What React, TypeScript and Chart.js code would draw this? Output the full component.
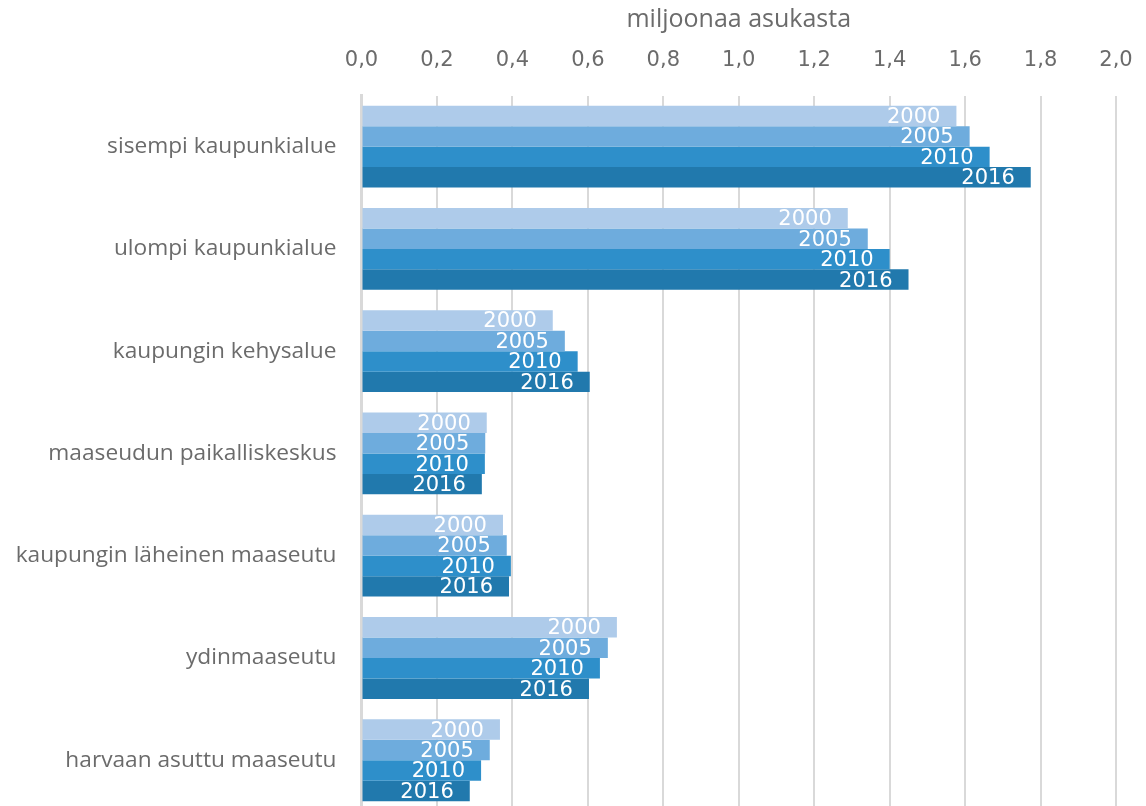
import React, { useEffect, useRef } from "react";
import { Chart, registerables } from "chart.js";

Chart.register(...registerables);

const categories = [
  "sisempi kaupunkialue",
  "ulompi kaupunkialue",
  "kaupungin kehysalue",
  "maaseudun paikalliskeskus",
  "kaupungin läheinen maaseutu",
  "ydinmaaseutu",
  "harvaan asuttu maaseutu",
];
const seriesNames = ["2000", "2005", "2010", "2016"];
const values2000 = [1.577, 1.289, 0.507, 0.332, 0.375, 0.677, 0.367];
const values2005 = [1.612, 1.342, 0.539, 0.328, 0.385, 0.653, 0.34];
const values2010 = [1.665, 1.4, 0.573, 0.327, 0.396, 0.632, 0.317];
const values2016 = [1.774, 1.45, 0.605, 0.319, 0.391, 0.603, 0.287];
const seriesColors = ["#aecbea", "#6eacdd", "#2e8fca", "#2179ad"];
const axisTitle = "miljoonaa asukasta";

const labelPlugin = {
  id: "insideEndLabels",
  afterDatasetsDraw(chart: any) {
    const ctx = chart.ctx;
    ctx.save();
    ctx.font = "21px 'DejaVu Sans'";
    ctx.fillStyle = "#ffffff";
    ctx.textAlign = "right";
    ctx.textBaseline = "middle";
    chart.data.datasets.forEach((ds: any, i: number) => {
      const meta = chart.getDatasetMeta(i);
      meta.data.forEach((bar: any) => {
        ctx.fillText(ds.label, bar.x - 16, bar.y + 1.5);
      });
    });
    ctx.restore();
  },
};

export default function App() {
  const ref = useRef<HTMLCanvasElement>(null);
  useEffect(() => {
    if (!ref.current) return;
    const all = [values2000, values2005, values2010, values2016];
    const chart = new Chart(ref.current, {
      type: "bar",
      data: {
        labels: categories,
        datasets: seriesNames.map((n, i) => ({
          label: n,
          data: all[i],
          backgroundColor: seriesColors[i],
          barPercentage: 1,
          categoryPercentage: 0.8,
        })),
      },
      options: {
        indexAxis: "y",
        animation: false,
        responsive: false,
        maintainAspectRatio: false,
        layout: { padding: { left: 0, right: 30, top: 0, bottom: 0 } },
        plugins: {
          legend: { display: false },
          tooltip: { enabled: false },
        },
        scales: {
          x: {
            position: "top",
            min: 0,
            max: 2,
            afterFit: (s: any) => {
              s.height = 95.5;
              s.paddingLeft = 0;
              s.paddingRight = 0;
            },
            ticks: {
              stepSize: 0.2,
              padding: 22,
              color: "#6b6b6b",
              font: { family: "'DejaVu Sans'", size: 21 },
              callback: (v: any) => Number(v).toFixed(1).replace(".", ","),
            },
            grid: { color: "#d9d9d9", lineWidth: 2, drawTicks: false },
            border: { display: false },
            title: {
              display: true,
              text: axisTitle,
              color: "#6b6b6b",
              font: { family: "'Open Sans'", size: 25 },
              padding: { top: 5, bottom: 0 },
            },
          },
          y: {
            z: 1,
            afterFit: (s: any) => {
              s.width = 361.5;
            },
            ticks: {
              padding: 25,
              color: "#6b6b6b",
              font: { family: "'Open Sans'", size: 22.7 },
            },
            grid: { display: false, drawTicks: false },
            border: { display: true, color: "#d9d9d9", width: 3 },
          },
        },
      },
      plugins: [labelPlugin],
    });
    return () => chart.destroy();
  }, []);
  return (
    <div style={{ position: "fixed", left: 0, top: 0, width: 1146, height: 850, background: "#fff" }}>
      <canvas ref={ref} width={1146} height={850} style={{ display: "block" }} />
    </div>
  );
}
